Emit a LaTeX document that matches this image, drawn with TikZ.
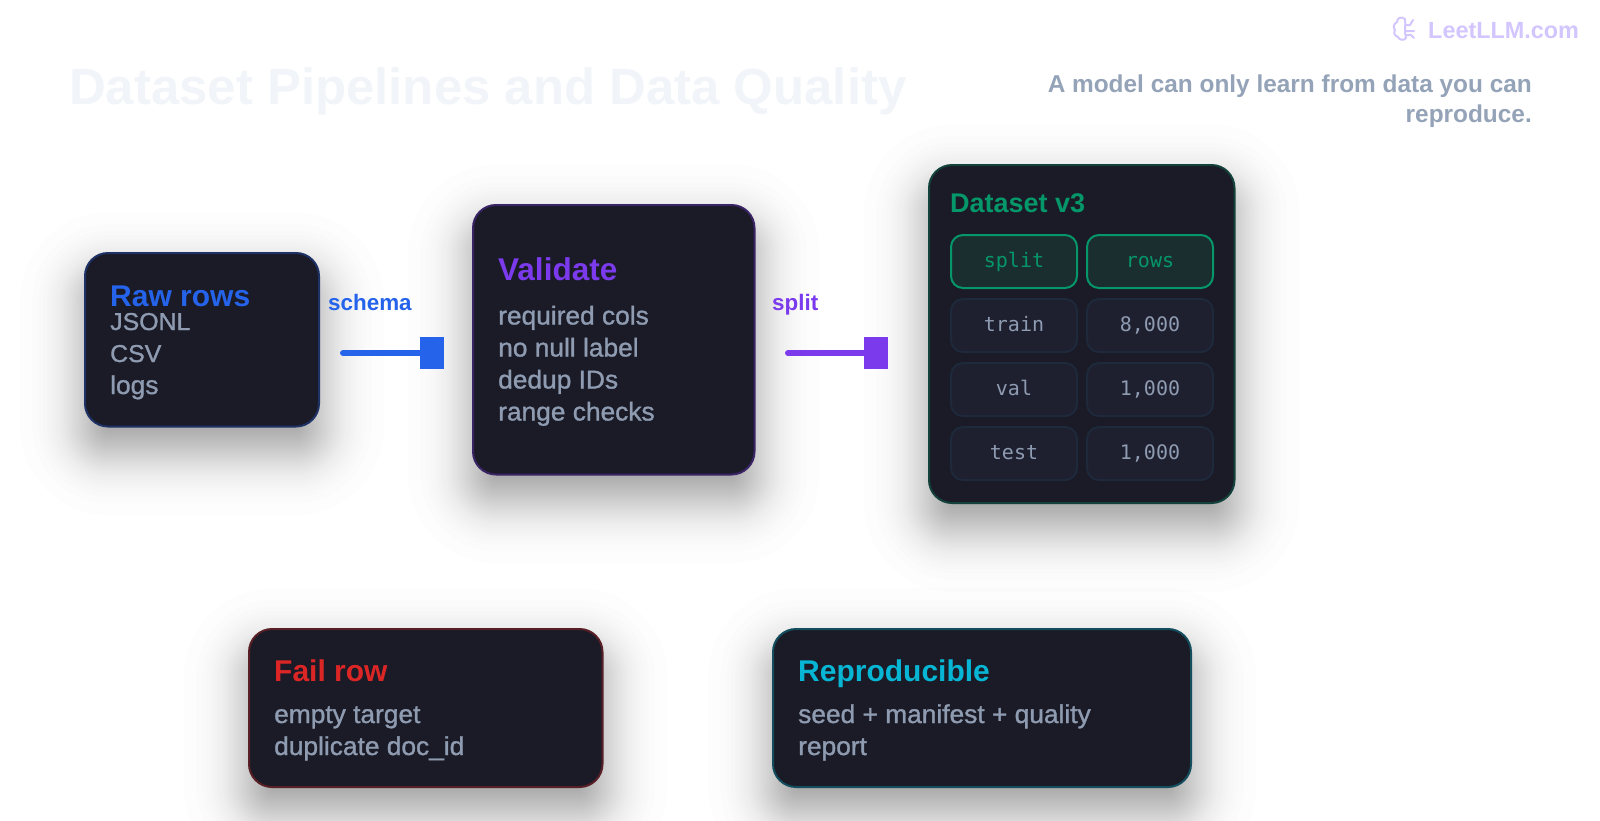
\documentclass[tikz,border=0pt]{standalone}
\usepackage{fontspec}
\setmainfont{Liberation Sans}
\setmonofont{DejaVu Sans Mono}
\newfontfamily\medfont[FakeBold=1.2,FakeStretch=1.02]{Liberation Sans}
\usetikzlibrary{arrows.meta}

\definecolor{cardbg}{HTML}{1A1B26}
\definecolor{cellbg}{HTML}{1E2030}
\definecolor{cellline}{HTML}{1E293B}
\definecolor{headbg}{HTML}{1A2E30}
\definecolor{muted}{HTML}{8E9BB1}
\definecolor{subgrey}{HTML}{94A3B8}
\definecolor{rawblue}{HTML}{2563EB}
\definecolor{valpurple}{HTML}{7C3AED}
\definecolor{setgreen}{HTML}{059669}
\definecolor{failred}{HTML}{DC2626}
\definecolor{repcyan}{HTML}{06B6D4}
\definecolor{ghost}{HTML}{F1F5F9}
\definecolor{logopurple}{HTML}{D3C6FE}

\begin{document}
\begin{tikzpicture}[x=1pt,y=-1pt]

\tikzset{card/.style={draw=#1!32!cardbg,line width=2pt,fill=cardbg,rounded corners=23pt},}
\tikzset{cardtitle/.style={anchor=base west,inner sep=0pt,font=\fontsize{30}{30}\selectfont\bfseries,text=#1},}
\tikzset{cardtext/.style={anchor=base west,inner sep=0pt,font=\medfont\fontsize{25.8}{25.8}\selectfont,text=muted},}
\tikzset{capstext/.style={cardtext,font=\medfont\fontsize{24.4}{24.4}\selectfont},}
\tikzset{edgelabel/.style={anchor=base west,inner sep=0pt,font=\fontsize{22.4}{22.4}\selectfont\bfseries,text=#1},}
\tikzset{flow/.style={line width=6pt,line cap=round,draw=#1,-{Rectangle[length=24pt,width=32pt,fill=#1]}},}
\tikzset{cell/.style={draw=cellline,line width=2pt,fill=cellbg,rounded corners=12pt,minimum width=126pt,minimum height=53pt,
  inner sep=0pt,text=muted,text height=15pt,text depth=4pt,font=\ttfamily\fontsize{20}{20}\selectfont},}
\tikzset{headcell/.style={cell,draw=setgreen,fill=headbg,text=setgreen},}

\useasboundingbox (0,0) rectangle (1600,820);
\fill[white] (0,0) rectangle (1600,820);

%HEADER
\draw (69,104.5) node [anchor=base west,inner sep=0pt,font=\fontsize{50.9}{50.9}\selectfont\bfseries,text=ghost] (title) {Dataset Pipelines and Data Quality};
\draw (1532,92.5) node [anchor=base east,inner sep=0pt,font=\fontsize{24.4}{24.4}\selectfont\bfseries,text=subgrey] (sub1) {A model can only learn from data you can};
\draw (1532,122) node [anchor=base east,inner sep=0pt,font=\fontsize{24.4}{24.4}\selectfont\bfseries,text=subgrey] (sub2) {reproduce.};
\draw (1428,38) node [anchor=base west,inner sep=0pt,font=\fontsize{23.4}{23.4}\selectfont\bfseries,text=logopurple] (logo) {LeetLLM.com};
\draw[logopurple,line width=2pt,line cap=round,line join=round]
  (1405,19) .. controls (1401,16) and (1397,18) .. (1397,22) .. controls (1393,24) and (1393,28) .. (1395,30)
  .. controls (1393,33) and (1395,36) .. (1398,37) .. controls (1399,40) and (1404,41) .. (1406,38)
  .. controls (1404,32) and (1406,26) .. (1405,19)
  (1405,25) -- (1410,25) -- (1413,20) (1405,31) -- (1414,31) (1407,35) -- (1411,35) -- (1414,38);

%SHADOWS
\foreach \xa/\ya/\xb/\yb in {85/253/319/426.5,473/205/754.5/474.5,929/165/1234.5/503,249/629/602.5/787,773/629/1191/787}{
  \foreach \grow in {-65,-53,-46.5,-42,-38,-35,-32,-29.7,-26.4,-24.5,-22.7,-21,-19.4,-17.8,-16.2,-14.7,-13.2,-11.7,-10.3,-8.9,-7.5,-6.1,-4.7,-3.4,-2,-.7,.7,2,3.4,4.7,6.1,7.5,8.9,10.3,11.7,13.2,14.7,16.2,17.8,19.4,21,22.7,24.5,26.4,29.7,32,35,38,42,46.5,53,65}{
    \pgfmathsetmacro\shrad{max(4,24+\grow)}
    \fill[black,opacity=.0075,rounded corners=\shrad pt] (\xa-\grow,\ya+24-\grow) rectangle (\xb+\grow,\yb+24+\grow);
  }
}

%CARDS
\draw[card=rawblue] (85,253) rectangle (319,426.5);
\draw[card=valpurple] (473,205) rectangle (754.5,474.5);
\draw[card=setgreen] (929,165) rectangle (1234.5,503);
\draw[card=failred] (249,629) rectangle (602.5,787);
\draw[card=repcyan] (773,629) rectangle (1191,787);

%RAW ROWS
\draw (110,306) node [cardtitle=rawblue] (raw) {Raw rows};
\draw (110,330) node [capstext] (raw1) {JSONL};
\draw (110,362) node [capstext] (raw2) {CSV};
\draw (110,394) node [cardtext] (raw3) {logs};

%VALIDATE
\draw (498,280.5) node [cardtitle=valpurple,font=\fontsize{31.5}{31.5}\selectfont\bfseries] (val) {Validate};
\draw (498,324.5) node [cardtext] (val1) {required cols};
\draw (498,356.5) node [cardtext] (val2) {no null label};
\draw (498,388.5) node [cardtext] (val3) {dedup IDs};
\draw (498,420.5) node [cardtext] (val4) {range checks};

%DATASET
\draw (950,212) node [anchor=base west,inner sep=0pt,font=\fontsize{27}{27}\selectfont\bfseries,text=setgreen] (set) {Dataset v3};
\draw (1014,261.5) node [headcell] (c11) {split};
\draw (1150,261.5) node [headcell] (c12) {rows};
\draw (1014,325.5) node [cell] (c21) {train};
\draw (1150,325.5) node [cell] (c22) {8,000};
\draw (1014,389.5) node [cell] (c31) {val};
\draw (1150,389.5) node [cell] (c32) {1,000};
\draw (1014,453.5) node [cell] (c41) {test};
\draw (1150,453.5) node [cell] (c42) {1,000};

%BOTTOM
\draw (274,681.5) node [cardtitle=failred] (fail) {Fail row};
\draw (274,723) node [cardtext] (fail1) {empty target};
\draw (274,755) node [cardtext] (fail2) {duplicate doc\_id};
\draw (798,681.5) node [cardtitle=repcyan] (rep) {Reproducible};
\draw (798,723) node [cardtext] (rep1) {seed + manifest + quality};
\draw (798,755) node [cardtext] (rep2) {report};

%ARROWS
\coordinate (a1) at (343,353);
\coordinate (b1) at (444,353);
\coordinate (a2) at (788,353);
\coordinate (b2) at (888,353);
\draw[flow=rawblue] (a1) -- (b1);
\draw[flow=valpurple] (a2) -- (b2);
\draw (328,310) node [edgelabel=rawblue] (l1) {schema};
\draw (772,310) node [edgelabel=valpurple] (l2) {split};

\end{tikzpicture}
\end{document}
